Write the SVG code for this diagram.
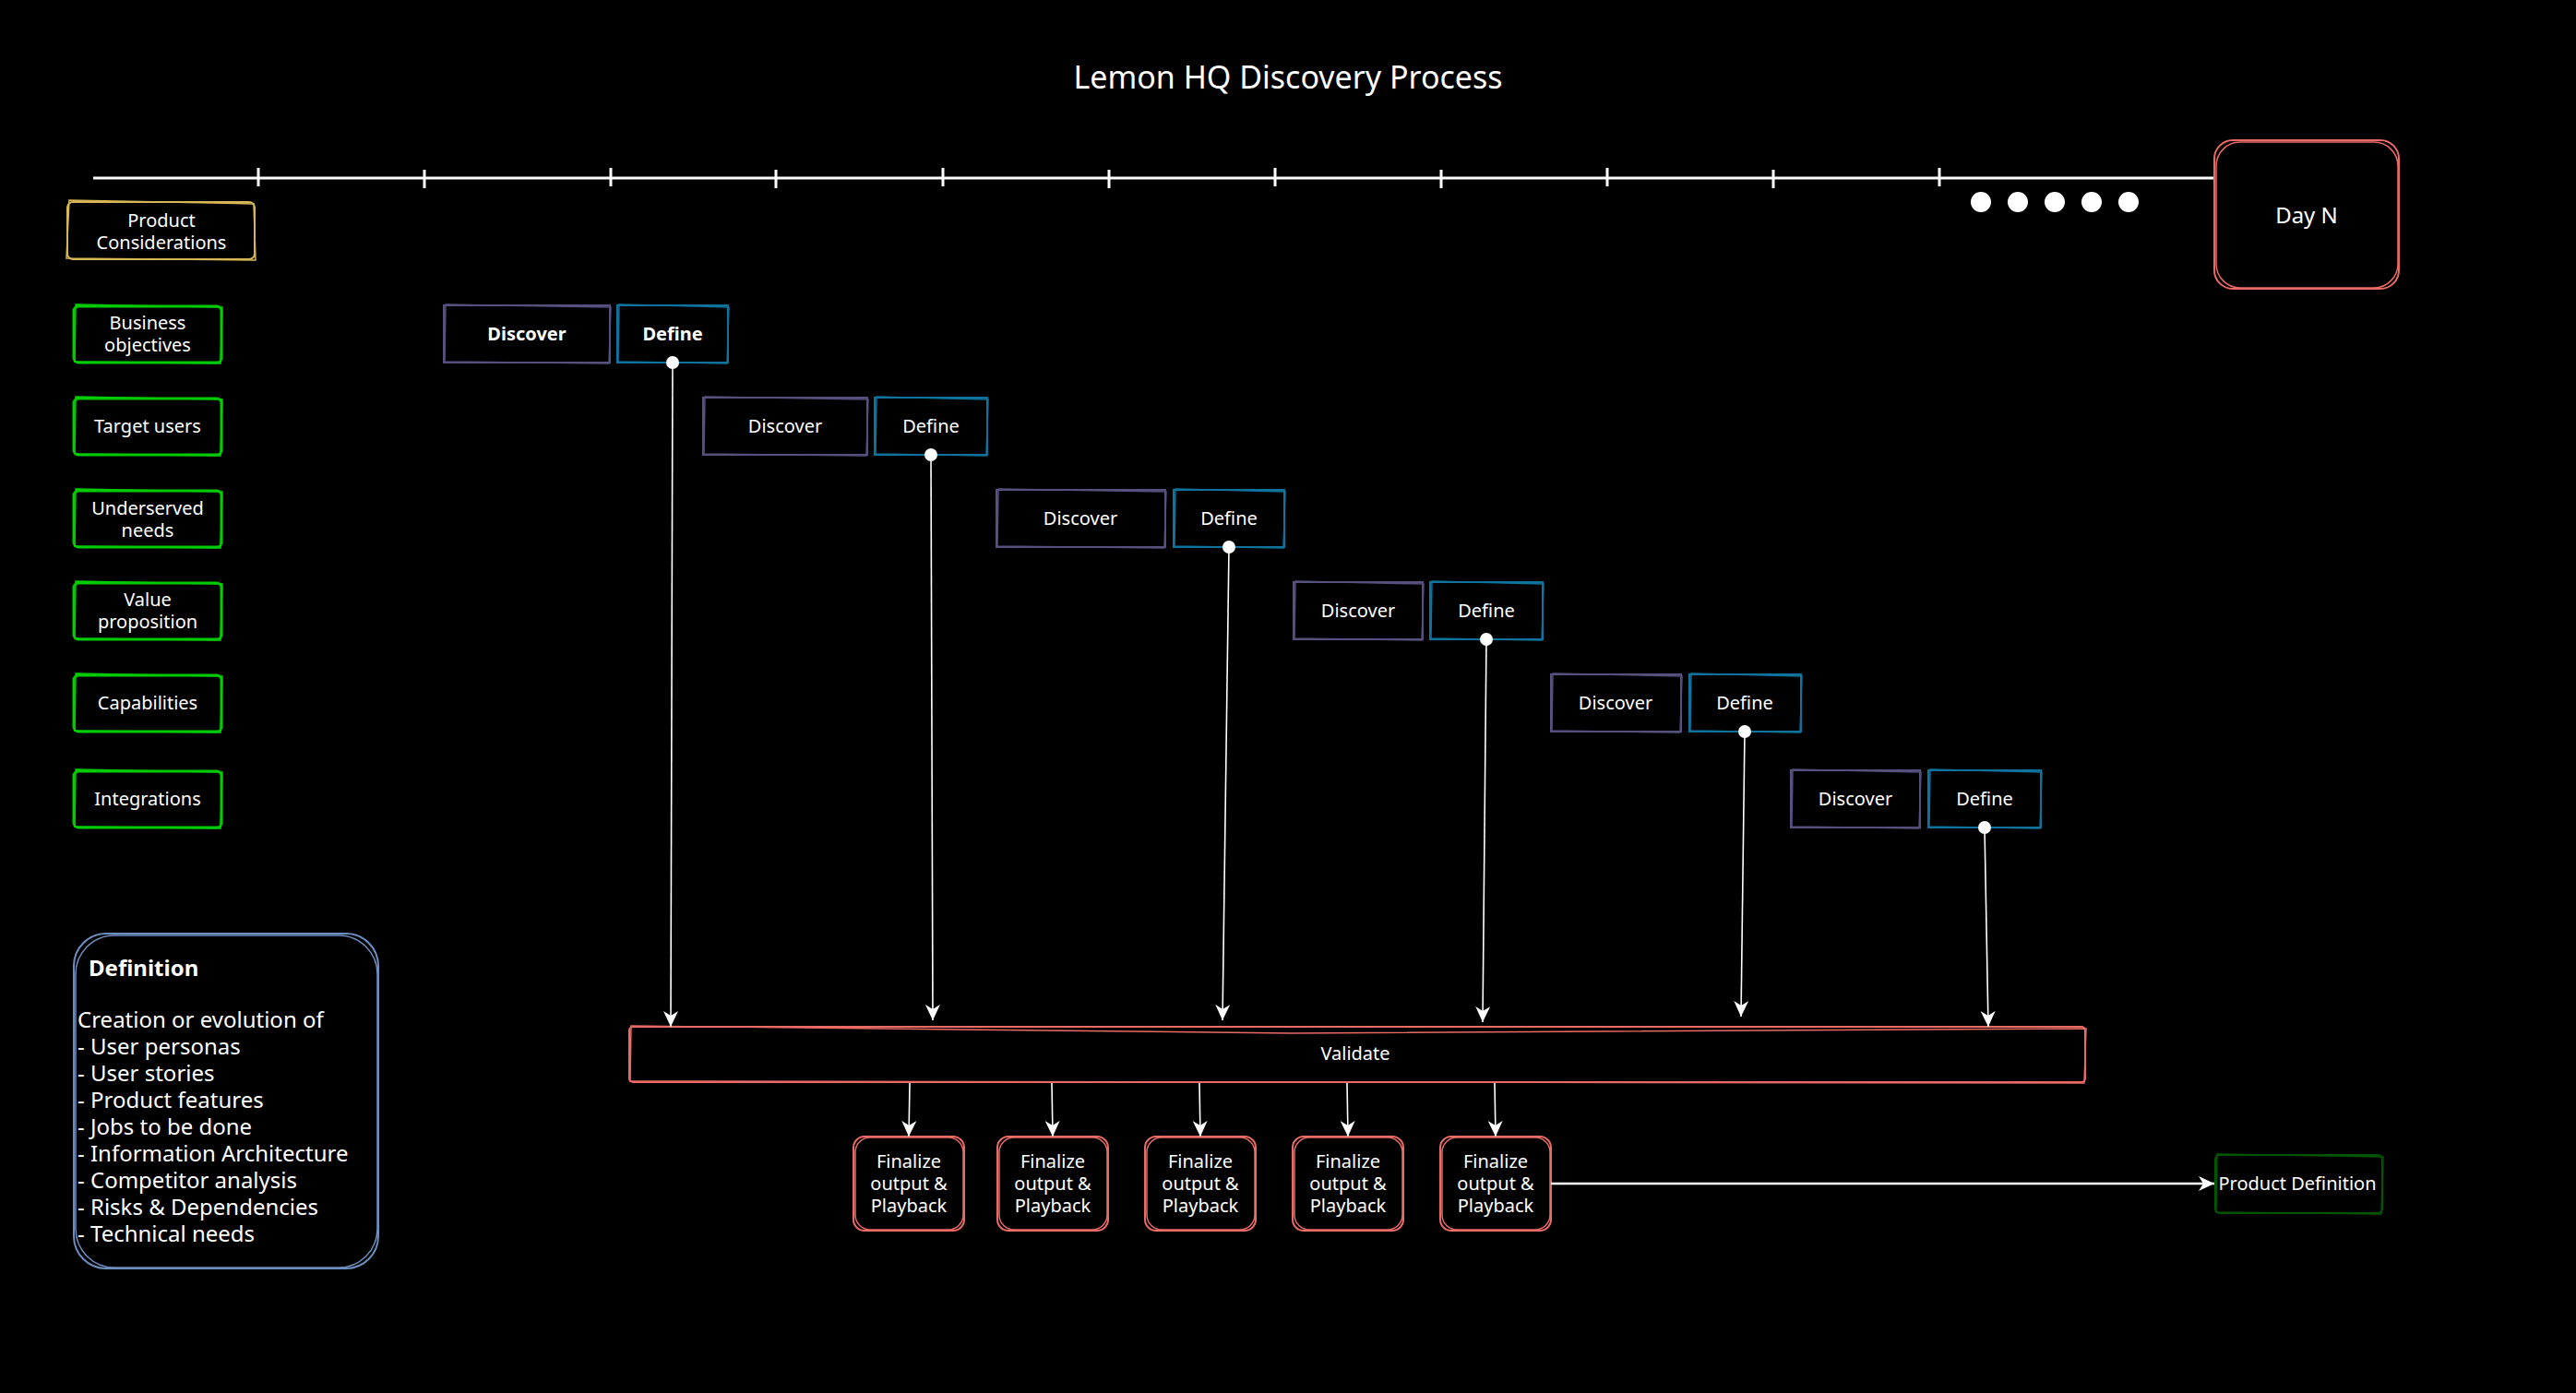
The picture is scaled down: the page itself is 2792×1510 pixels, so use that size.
<svg xmlns="http://www.w3.org/2000/svg" width="2792" height="1510" viewBox="0 0 2792 1510">
<defs>
<style>
.t{font-family:"Noto Sans","Open Sans","DejaVu Sans",sans-serif;fill:#fff;font-size:20px;text-anchor:middle}
.b{font-weight:bold}
.box{fill:#000;stroke-width:2}
.s2{fill:none;stroke-width:1.5}
.yellow{stroke:#d6b656}
.green{stroke:#00cc00;stroke-width:3}
.purple{stroke:#56517e}
.blue{stroke:#10739e}
.red{stroke:#ea6b66}
.dblue{stroke:#6c8ebf}
.dgreen{stroke:#005700}
.tl{stroke:#fff;stroke-width:3;fill:none}
.con{stroke:#fff;stroke-width:1.6;fill:none}
.dot{fill:#fff}
</style>
<marker id="arr" markerUnits="userSpaceOnUse" markerWidth="18" markerHeight="16" viewBox="0 0 18 16" refX="17" refY="8" orient="auto">
<path d="M0,0 L17,8 L0,16 L5,8 Z" fill="#fff"/>
</marker>
</defs>
<rect x="0" y="0" width="2792" height="1510" fill="#000"/>

<g id="title">
<text class="t" x="1396" y="96" style="font-size:34px">Lemon HQ Discovery Process</text>
</g>

<g id="timeline">
<line class="tl" x1="101" y1="193" x2="2400" y2="193"/>
<line class="tl" x1="280" y1="182" x2="280" y2="202"/>
<line class="tl" x1="460" y1="184" x2="460" y2="204"/>
<line class="tl" x1="662" y1="182" x2="662" y2="202"/>
<line class="tl" x1="841" y1="184" x2="841" y2="204"/>
<line class="tl" x1="1022" y1="182" x2="1022" y2="202"/>
<line class="tl" x1="1202" y1="184" x2="1202" y2="204"/>
<line class="tl" x1="1382" y1="182" x2="1382" y2="202"/>
<line class="tl" x1="1562" y1="184" x2="1562" y2="204"/>
<line class="tl" x1="1742" y1="182" x2="1742" y2="202"/>
<line class="tl" x1="1922" y1="184" x2="1922" y2="204"/>
<line class="tl" x1="2102" y1="182" x2="2102" y2="202"/>
<circle class="dot" cx="2147" cy="219" r="11"/>
<circle class="dot" cx="2187" cy="219" r="11"/>
<circle class="dot" cx="2227" cy="219" r="11"/>
<circle class="dot" cx="2267" cy="219" r="11"/>
<circle class="dot" cx="2307" cy="219" r="11"/>
</g>

<g id="day-n">
<rect class="box red" x="2400" y="152" width="200" height="161" rx="20"/>
<rect class="s2 red" x="2402" y="154" width="197" height="158" rx="26"/>
<text class="t" x="2500" y="242" style="font-size:24px">Day N</text>
</g>

<g id="product-considerations">
<rect class="box yellow" x="73" y="219" width="203" height="62" rx="6"/>
<path class="s2 yellow" d="M75,217 L275,221 L277,282 L72,280 Z"/>
<text class="t"><tspan x="175" y="246">Product</tspan><tspan x="175" y="270">Considerations</tspan></text>
</g>

<g id="business-objectives">
<rect class="box green" x="80" y="332" width="160" height="61" rx="5"/>
<path class="s2 green" d="M82,330 L241,333 L239,394 L81,392 Z" style="stroke-width:1.5"/>
<text class="t"><tspan x="160" y="357">Business</tspan><tspan x="160" y="381">objectives</tspan></text>
</g>
<g id="target-users">
<rect class="box green" x="80" y="432" width="160" height="61" rx="5"/>
<path class="s2 green" d="M82,430 L241,433 L239,494 L81,492 Z" style="stroke-width:1.5"/>
<text class="t" x="160" y="469">Target users</text>
</g>
<g id="underserved-needs">
<rect class="box green" x="80" y="532" width="160" height="61" rx="5"/>
<path class="s2 green" d="M82,530 L241,533 L239,594 L81,592 Z" style="stroke-width:1.5"/>
<text class="t"><tspan x="160" y="558">Underserved</tspan><tspan x="160" y="582">needs</tspan></text>
</g>
<g id="value-proposition">
<rect class="box green" x="80" y="632" width="160" height="61" rx="5"/>
<path class="s2 green" d="M82,630 L241,633 L239,694 L81,692 Z" style="stroke-width:1.5"/>
<text class="t"><tspan x="160" y="657">Value</tspan><tspan x="160" y="681">proposition</tspan></text>
</g>
<g id="capabilities">
<rect class="box green" x="80" y="732" width="160" height="61" rx="5"/>
<path class="s2 green" d="M82,730 L241,733 L239,794 L81,792 Z" style="stroke-width:1.5"/>
<text class="t" x="160" y="769">Capabilities</text>
</g>
<g id="integrations">
<rect class="box green" x="80" y="836" width="160" height="61" rx="5"/>
<path class="s2 green" d="M82,834 L241,837 L239,898 L81,896 Z" style="stroke-width:1.5"/>
<text class="t" x="160" y="873">Integrations</text>
</g>

<g id="definition-note">
<rect class="box dblue" x="80" y="1012" width="330" height="363" rx="35"/>
<rect class="s2 dblue" x="82" y="1014" width="327" height="360" rx="42"/>
<text class="t b" x="96" y="1058" style="font-size:24px;text-anchor:start">Definition</text>
<text class="t" style="font-size:24px;text-anchor:start">
<tspan x="84" y="1114">Creation or evolution of</tspan>
<tspan x="84" y="1143">- User personas</tspan>
<tspan x="84" y="1172">- User stories</tspan>
<tspan x="84" y="1201">- Product features</tspan>
<tspan x="84" y="1230">- Jobs to be done</tspan>
<tspan x="84" y="1259">- Information Architecture</tspan>
<tspan x="84" y="1288">- Competitor analysis</tspan>
<tspan x="84" y="1317">- Risks &amp; Dependencies</tspan>
<tspan x="84" y="1346">- Technical needs</tspan>
</text>
</g>

<g id="discover-1">
<rect class="box purple" x="481" y="331" width="180" height="62"/>
<path class="s2 purple" d="M483,330 L662,333 L660,394 L482,392 Z"/>
<text class="t b" x="571" y="369">Discover</text>
</g>
<g id="define-1">
<rect class="box blue" x="669" y="331" width="120" height="62"/>
<path class="s2 blue" d="M671,330 L790,333 L788,394 L670,392 Z"/>
<text class="t b" x="729" y="369">Define</text>
</g>
<g id="discover-2">
<rect class="box purple" x="762" y="431" width="178" height="62"/>
<path class="s2 purple" d="M764,430 L941,433 L939,494 L763,492 Z"/>
<text class="t" x="851" y="469">Discover</text>
</g>
<g id="define-2">
<rect class="box blue" x="948" y="431" width="122" height="62"/>
<path class="s2 blue" d="M950,430 L1071,433 L1069,494 L949,492 Z"/>
<text class="t" x="1009" y="469">Define</text>
</g>
<g id="discover-3">
<rect class="box purple" x="1080" y="531" width="183" height="62"/>
<path class="s2 purple" d="M1082,530 L1264,533 L1262,594 L1081,592 Z"/>
<text class="t" x="1171" y="569">Discover</text>
</g>
<g id="define-3">
<rect class="box blue" x="1272" y="531" width="120" height="62"/>
<path class="s2 blue" d="M1274,530 L1393,533 L1391,594 L1273,592 Z"/>
<text class="t" x="1332" y="569">Define</text>
</g>
<g id="discover-4">
<rect class="box purple" x="1402" y="631" width="140" height="62"/>
<path class="s2 purple" d="M1404,630 L1543,633 L1541,694 L1403,692 Z"/>
<text class="t" x="1472" y="669">Discover</text>
</g>
<g id="define-4">
<rect class="box blue" x="1550" y="631" width="122" height="62"/>
<path class="s2 blue" d="M1552,630 L1673,633 L1671,694 L1551,692 Z"/>
<text class="t" x="1611" y="669">Define</text>
</g>
<g id="discover-5">
<rect class="box purple" x="1681" y="731" width="141" height="62"/>
<path class="s2 purple" d="M1683,730 L1823,733 L1821,794 L1682,792 Z"/>
<text class="t" x="1751" y="769">Discover</text>
</g>
<g id="define-5">
<rect class="box blue" x="1831" y="731" width="121" height="62"/>
<path class="s2 blue" d="M1833,730 L1953,733 L1951,794 L1832,792 Z"/>
<text class="t" x="1891" y="769">Define</text>
</g>
<g id="discover-6">
<rect class="box purple" x="1941" y="835" width="140" height="62"/>
<path class="s2 purple" d="M1943,834 L2082,837 L2080,898 L1942,896 Z"/>
<text class="t" x="2011" y="873">Discover</text>
</g>
<g id="define-6">
<rect class="box blue" x="2090" y="835" width="122" height="62"/>
<path class="s2 blue" d="M2092,834 L2213,837 L2211,898 L2091,896 Z"/>
<text class="t" x="2151" y="873">Define</text>
</g>

<g id="validate">
<rect class="box red" x="682" y="1113" width="1578" height="60" rx="4"/>
<path class="s2 red" d="M684,1112 L1400,1120 L2261,1115 L2259,1174 L683,1172 Z"/>
<text class="t" x="1469" y="1149">Validate</text>
</g>

<g id="finalize-1">
<rect class="box red" x="925" y="1232" width="120" height="102" rx="12"/>
<rect class="s2 red" x="927" y="1233" width="117" height="100" rx="16"/>
<text class="t"><tspan x="985" y="1266">Finalize</tspan><tspan x="985" y="1290">output &amp;</tspan><tspan x="985" y="1314">Playback</tspan></text>
</g>
<g id="finalize-2">
<rect class="box red" x="1081" y="1232" width="120" height="102" rx="12"/>
<rect class="s2 red" x="1083" y="1233" width="117" height="100" rx="16"/>
<text class="t"><tspan x="1141" y="1266">Finalize</tspan><tspan x="1141" y="1290">output &amp;</tspan><tspan x="1141" y="1314">Playback</tspan></text>
</g>
<g id="finalize-3">
<rect class="box red" x="1241" y="1232" width="120" height="102" rx="12"/>
<rect class="s2 red" x="1243" y="1233" width="117" height="100" rx="16"/>
<text class="t"><tspan x="1301" y="1266">Finalize</tspan><tspan x="1301" y="1290">output &amp;</tspan><tspan x="1301" y="1314">Playback</tspan></text>
</g>
<g id="finalize-4">
<rect class="box red" x="1401" y="1232" width="120" height="102" rx="12"/>
<rect class="s2 red" x="1403" y="1233" width="117" height="100" rx="16"/>
<text class="t"><tspan x="1461" y="1266">Finalize</tspan><tspan x="1461" y="1290">output &amp;</tspan><tspan x="1461" y="1314">Playback</tspan></text>
</g>
<g id="finalize-5">
<rect class="box red" x="1561" y="1232" width="120" height="102" rx="12"/>
<rect class="s2 red" x="1563" y="1233" width="117" height="100" rx="16"/>
<text class="t"><tspan x="1621" y="1266">Finalize</tspan><tspan x="1621" y="1290">output &amp;</tspan><tspan x="1621" y="1314">Playback</tspan></text>
</g>

<g id="product-definition">
<rect class="box dgreen" x="2401" y="1252" width="181" height="63" rx="5"/>
<path class="s2 dgreen" d="M2403,1251 L2583,1254 L2581,1316 L2402,1314 Z"/>
<text class="t" x="2490" y="1290">Product Definition</text>
</g>

<g id="connectors">
<line class="con" x1="729" y1="393" x2="727" y2="1113" marker-end="url(#arr)"/>
<line class="con" x1="1009" y1="493" x2="1011" y2="1106" marker-end="url(#arr)"/>
<line class="con" x1="1332" y1="593" x2="1325" y2="1106" marker-end="url(#arr)"/>
<line class="con" x1="1611" y1="693" x2="1607" y2="1108" marker-end="url(#arr)"/>
<line class="con" x1="1891" y1="793" x2="1887" y2="1102" marker-end="url(#arr)"/>
<line class="con" x1="2151" y1="897" x2="2155" y2="1113" marker-end="url(#arr)"/>
<circle class="dot" cx="729" cy="393" r="7"/>
<circle class="dot" cx="1009" cy="493" r="7"/>
<circle class="dot" cx="1332" cy="593" r="7"/>
<circle class="dot" cx="1611" cy="693" r="7"/>
<circle class="dot" cx="1891" cy="793" r="7"/>
<circle class="dot" cx="2151" cy="897" r="7"/>
<line class="con" x1="986" y1="1174" x2="985" y2="1232" marker-end="url(#arr)"/>
<line class="con" x1="1140" y1="1174" x2="1141" y2="1232" marker-end="url(#arr)"/>
<line class="con" x1="1300" y1="1174" x2="1301" y2="1232" marker-end="url(#arr)"/>
<line class="con" x1="1460" y1="1174" x2="1461" y2="1232" marker-end="url(#arr)"/>
<line class="con" x1="1620" y1="1174" x2="1621" y2="1232" marker-end="url(#arr)"/>
<line class="con" x1="1681" y1="1283" x2="2400" y2="1283" style="stroke-width:2.5" marker-end="url(#arr)"/>
</g>
</svg>
